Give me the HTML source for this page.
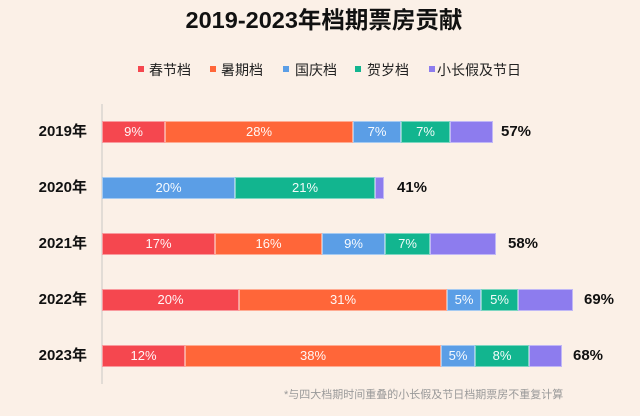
<!DOCTYPE html>
<html><head><meta charset="utf-8"><style>
*{margin:0;padding:0;box-sizing:border-box}
body{width:640px;height:416px;background:#fbf0e7;position:relative;overflow:hidden;font-family:"Liberation Sans","Noto Sans CJK SC",sans-serif}
.t{position:absolute;white-space:nowrap}
.title{left:0;width:648px;top:6px;text-align:center;font-size:23.5px;font-weight:bold;color:#111;line-height:28px}
.sq{position:absolute;width:6px;height:6px;top:66px}
.lg{position:absolute;top:61px;font-size:14px;line-height:18px;color:#222}
.axis{position:absolute;left:101px;top:104px;width:1.5px;height:280px;background:#e2dcd6}
.yl{position:absolute;right:553px;font-size:15px;font-weight:bold;color:#111;line-height:22px;text-align:right}
.seg{position:absolute;height:22px;border:1px solid rgba(255,255,255,0.45);color:rgba(255,255,255,0.95);font-size:13px;line-height:20px;text-align:center;overflow:hidden}
.tot{position:absolute;font-size:15px;font-weight:bold;color:#111;line-height:22px}
.r{background:#f5474f}.o{background:#ff6639}.b{background:#5b9ee6}.g{background:#12b58f}.p{background:#8d7cee}
.fn{position:absolute;left:284px;top:388px;font-size:11px;color:#999;line-height:14px;white-space:nowrap}
</style></head><body>
<div class="t title">2019-2023年档期票房贡献</div>

<div class="sq r" style="left:138px"></div><div class="lg" style="left:149px">春节档</div>
<div class="sq o" style="left:210px"></div><div class="lg" style="left:221px">暑期档</div>
<div class="sq b" style="left:283px"></div><div class="lg" style="left:295px">国庆档</div>
<div class="sq g" style="left:355px"></div><div class="lg" style="left:367px">贺岁档</div>
<div class="sq p" style="left:429px"></div><div class="lg" style="left:437px">小长假及节日</div>

<div class="axis"></div>

<div class="yl" style="top:121px">2019年</div>
<div class="seg r" style="left:102px;top:121px;width:63px">9%</div>
<div class="seg o" style="left:165px;top:121px;width:188px">28%</div>
<div class="seg b" style="left:353px;top:121px;width:48px">7%</div>
<div class="seg g" style="left:401px;top:121px;width:49px">7%</div>
<div class="seg p" style="left:450px;top:121px;width:43px"></div>
<div class="tot" style="left:501px;top:121px">57%</div>

<div class="yl" style="top:177px">2020年</div>
<div class="seg b" style="left:102px;top:177px;width:133px">20%</div>
<div class="seg g" style="left:235px;top:177px;width:140px">21%</div>
<div class="seg p" style="left:375px;top:177px;width:9px"></div>
<div class="tot" style="left:397px;top:177px">41%</div>

<div class="yl" style="top:233px">2021年</div>
<div class="seg r" style="left:102px;top:233px;width:113px">17%</div>
<div class="seg o" style="left:215px;top:233px;width:107px">16%</div>
<div class="seg b" style="left:322px;top:233px;width:63px">9%</div>
<div class="seg g" style="left:385px;top:233px;width:45px">7%</div>
<div class="seg p" style="left:430px;top:233px;width:66px"></div>
<div class="tot" style="left:508px;top:233px">58%</div>

<div class="yl" style="top:289px">2022年</div>
<div class="seg r" style="left:102px;top:289px;width:137px">20%</div>
<div class="seg o" style="left:239px;top:289px;width:208px">31%</div>
<div class="seg b" style="left:447px;top:289px;width:34px">5%</div>
<div class="seg g" style="left:481px;top:289px;width:37px">5%</div>
<div class="seg p" style="left:518px;top:289px;width:55px"></div>
<div class="tot" style="left:584px;top:289px">69%</div>

<div class="yl" style="top:345px">2023年</div>
<div class="seg r" style="left:102px;top:345px;width:83px">12%</div>
<div class="seg o" style="left:185px;top:345px;width:256px">38%</div>
<div class="seg b" style="left:441px;top:345px;width:34px">5%</div>
<div class="seg g" style="left:475px;top:345px;width:54px">8%</div>
<div class="seg p" style="left:529px;top:345px;width:33px"></div>
<div class="tot" style="left:573px;top:345px">68%</div>

<div class="fn">*与四大档期时间重叠的小长假及节日档期票房不重复计算</div>
</body></html>
